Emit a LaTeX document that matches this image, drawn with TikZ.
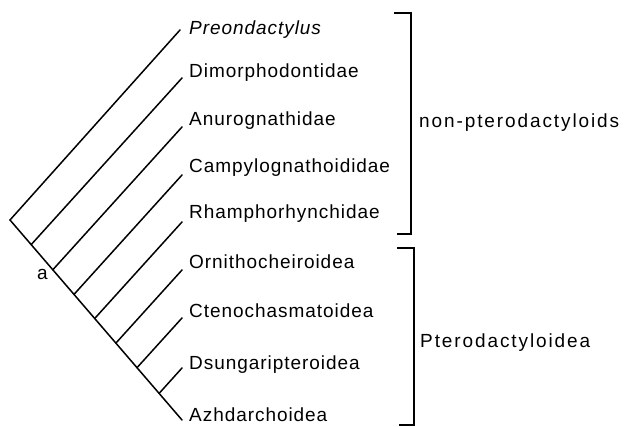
\documentclass[tikz,border=0pt]{standalone}
\usepackage{fontspec}
\setmainfont{Liberation Sans}[LetterSpace=5]
\newfontfamily\widefont{Liberation Sans}[LetterSpace=10]
\begin{document}
\begin{tikzpicture}[x=1pt,y=-1pt,
  branch/.style={line width=1.5pt,line cap=round},
  bracketline/.style={line width=1.2pt},
  taxon/.style={anchor=base west,inner sep=0pt,font=\fontsize{19}{21}\selectfont},
  group/.style={anchor=base west,inner sep=0pt,font=\fontsize{19}{21}\selectfont\widefont}]
\useasboundingbox (0,0) rectangle (624,427);
% main stem
\coordinate (root) at (10,220);
\coordinate (end) at (182,420);
\coordinate (n1) at (31.2,244.6);
\coordinate (n2) at (52.8,269.8);
\coordinate (n3) at (74.0,294.4);
\coordinate (n4) at (94.7,318.5);
\coordinate (n5) at (115.9,343.1);
\coordinate (n6) at (137.0,367.7);
\coordinate (n7) at (159.1,393.4);
% tips
\coordinate (t0) at (180,30);
\coordinate (t1) at (182,78);
\coordinate (t2) at (182,127);
\coordinate (t3) at (182,175);
\coordinate (t4) at (182,222);
\coordinate (t5) at (182,270);
\coordinate (t6) at (182,318);
\coordinate (t7) at (182,368);
\draw[branch] (root) -- (end);
\draw[branch] (root) -- (t0);
\draw[branch] (n1) -- (t1);
\draw[branch] (n2) -- (t2);
\draw[branch] (n3) -- (t3);
\draw[branch] (n4) -- (t4);
\draw[branch] (n5) -- (t5);
\draw[branch] (n6) -- (t6);
\draw[branch] (n7) -- (t7);
% labels
\node[taxon] (l0) at (189,35) {\itshape Preondactylus};
\node[taxon] (l1) at (189,78) {Dimorphodontidae};
\node[taxon] (l2) at (189,126) {Anurognathidae};
\node[taxon] (l3) at (189,173) {Campylognathoididae};
\node[taxon] (l4) at (189,219) {Rhamphorhynchidae};
\node[taxon] (l5) at (189,269) {Ornithocheiroidea};
\node[taxon] (l6) at (189,318) {Ctenochasmatoidea};
\node[taxon] (l7) at (189,370) {Dsungaripteroidea};
\node[taxon] (l8) at (189,422) {Azhdarchoidea};
\node[taxon] (la) at (37,280) {a};
% brackets
\coordinate (b1a) at (394,13);
\coordinate (b1b) at (411,13);
\coordinate (b1c) at (411,234);
\coordinate (b1d) at (397,234);
\draw[bracketline] (b1a) -- (b1b) -- (b1c) -- (b1d);
\coordinate (b2a) at (397,248);
\coordinate (b2b) at (414,248);
\coordinate (b2c) at (414,425);
\coordinate (b2d) at (399,425);
\draw[bracketline] (b2a) -- (b2b) -- (b2c) -- (b2d);
\node[group] (g1) at (419,128) {non-pterodactyloids};
\node[group] (g2) at (420,348) {Pterodactyloidea};
\end{tikzpicture}
\end{document}
